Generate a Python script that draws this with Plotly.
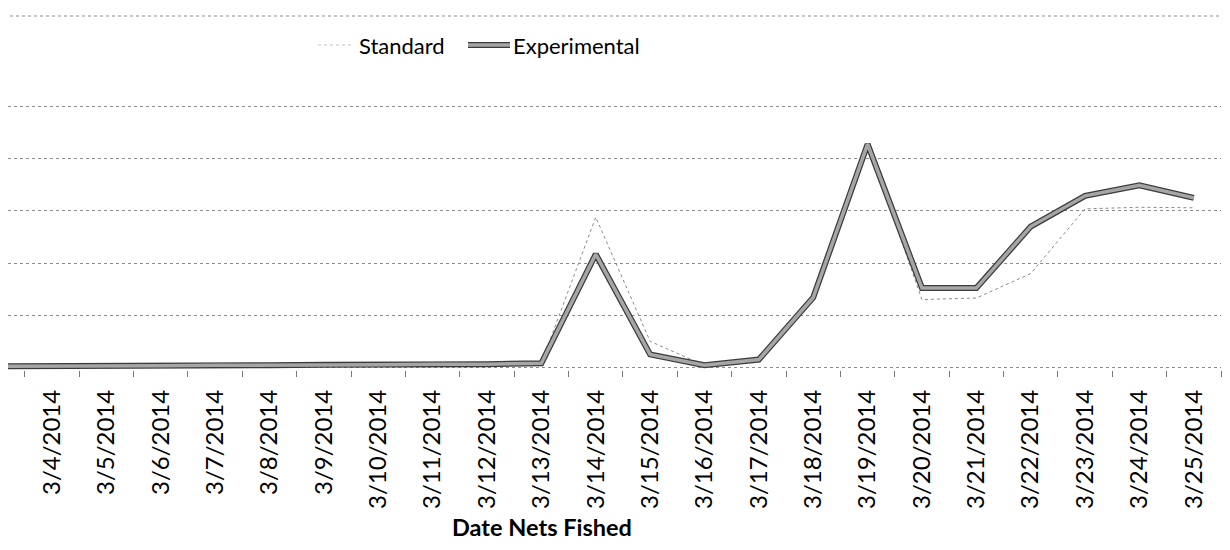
import plotly.graph_objects as go

dates = ["3/3/2014", "3/4/2014", "3/5/2014", "3/6/2014", "3/7/2014", "3/8/2014",
         "3/9/2014", "3/10/2014", "3/11/2014", "3/12/2014", "3/13/2014", "3/14/2014",
         "3/15/2014", "3/16/2014", "3/17/2014", "3/18/2014", "3/19/2014", "3/20/2014",
         "3/21/2014", "3/22/2014", "3/23/2014", "3/24/2014", "3/25/2014"]

standard = [0.02, 0.02, 0.03, 0.03, 0.04, 0.04, 0.05, 0.05, 0.06, 0.06, 0.08, 2.88,
            0.50, 0.04, 0.15, 1.34, 4.28, 1.30, 1.33, 1.80, 3.04, 3.07, 3.06]

experimental = [0.02, 0.02, 0.03, 0.03, 0.04, 0.04, 0.05, 0.05, 0.06, 0.06, 0.08, 2.17,
                0.25, 0.04, 0.15, 1.34, 4.28, 1.52, 1.52, 2.70, 3.29, 3.49, 3.25]

FONT = "Lato"
OFF = 8  # page body margin
W, H = 1230 - OFF, 550 - OFF
L, R, T, B = 0, 9, 96, 180
PW, PH = W - L - R, H - T - B


def px(x):
    return (x - OFF - L) / PW


def py(y):
    return (H - B - (y - OFF)) / PH


fig = go.Figure()

fig.add_trace(go.Scatter(
    x=dates, y=standard, mode="lines", name="Standard", showlegend=False,
    line=dict(color="#8a8a8a", width=1, dash="dot"),
))
fig.add_trace(go.Scatter(
    x=dates, y=experimental, mode="lines", name="Experimental outline",
    line=dict(color="#3c3c3c", width=6), showlegend=False,
))
fig.add_trace(go.Scatter(
    x=dates, y=experimental, mode="lines", name="Experimental", showlegend=False,
    line=dict(color="#a6a6a6", width=3.5),
))

legend_y = py(45)
shapes = [
    dict(type="line", xref="paper", yref="paper", x0=px(10), x1=px(1225),
         y0=py(16), y1=py(16), line=dict(color="#8c8c8c", width=1, dash="dot")),
    dict(type="line", xref="paper", yref="paper", x0=px(318), x1=px(352),
         y0=legend_y, y1=legend_y, line=dict(color="#c4c4c4", width=1, dash="dot")),
    dict(type="line", xref="paper", yref="paper", x0=px(468), x1=px(510),
         y0=legend_y, y1=legend_y, line=dict(color="#3c3c3c", width=6)),
    dict(type="line", xref="paper", yref="paper", x0=px(468), x1=px(510),
         y0=legend_y, y1=legend_y, line=dict(color="#a6a6a6", width=3.5)),
]

annotations = [
    dict(text="Standard", xref="paper", yref="paper", x=px(357), y=legend_y,
         xanchor="left", yanchor="middle", showarrow=False,
         font=dict(family=FONT, size=22, color="black")),
    dict(text="Experimental", xref="paper", yref="paper", x=px(511), y=legend_y,
         xanchor="left", yanchor="middle", showarrow=False,
         font=dict(family=FONT, size=22, color="black")),
    dict(text="<b>Date Nets Fished</b>", xref="paper", yref="paper",
         x=px(542), y=py(527), xanchor="center", yanchor="middle",
         showarrow=False, font=dict(family=FONT, size=23.5, color="black")),
]

fig.update_layout(
    width=W, height=H,
    margin=dict(l=L, r=R, t=T, b=B, pad=0),
    paper_bgcolor="white", plot_bgcolor="white",
    font=dict(family=FONT, color="black"),
    showlegend=False,
    xaxis=dict(
        type="category", categoryorder="array", categoryarray=dates,
        range=[0.19, 22.5], automargin=False,
        tickangle=-90, tickfont=dict(family=FONT, size=24, color="black"),
        ticks="outside", ticklen=6, tickcolor="#777", tickwidth=1,
        tickson="boundaries", ticklabelstandoff=14,
        showgrid=False, showline=False, zeroline=False,
    ),
    yaxis=dict(
        range=[-0.05, 5.05], tickvals=[0, 1, 2, 3, 4, 5], showticklabels=False,
        automargin=False,
        showgrid=True, gridcolor="#8c8c8c", gridwidth=1, griddash="dot",
        zeroline=False, showline=False, ticks="",
    ),
    annotations=annotations,
    shapes=shapes,
)

fig.write_html("out.html")
